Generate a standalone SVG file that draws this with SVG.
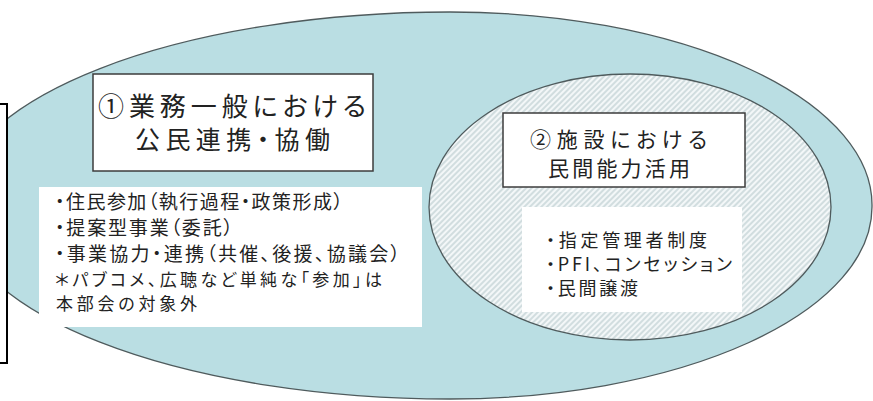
<svg xmlns="http://www.w3.org/2000/svg" width="873" height="401" viewBox="0 0 873 401">
<defs>
<pattern id="hatch" patternUnits="userSpaceOnUse" width="4" height="4" patternTransform="rotate(45)">
<rect width="4" height="4" fill="#f3f7f8"/>
<line x1="1" y1="0" x2="1" y2="4" stroke="#c3d2d5" stroke-width="1.4"/>
</pattern>
<style>
.t{font-family:"Noto Sans CJK JP","Noto Sans CJK SC",sans-serif;fill:#222;font-feature-settings:"palt";}
.box{fill:#fff;stroke:#3c3c3c;stroke-width:1.5;}
.list{fill:#fff;}
</style>
</defs>
<rect width="873" height="401" fill="#fff"/>
<g id="outer">
<path d="M450,12 A422,193 0 0 1 872,207 A422,192 0 0 1 450,399 A495,194 0 0 1 -45,205 A495,193 0 0 1 450,12 Z" fill="#badee3" stroke="#4f5b5d" stroke-width="1.3"/>
</g>
<g id="inner">
<ellipse cx="630" cy="207" rx="201" ry="133" fill="url(#hatch)" stroke="#4f5b5d" stroke-width="1.3"/>
</g>
<g id="leftbox">
<rect x="-10" y="104" width="17" height="259" fill="#fff" stroke="#000" stroke-width="2"/>
</g>
<g id="node1">
<rect class="box" x="93" y="74" width="280" height="97"/>
<text class="t" x="98" y="116" font-size="26" textLength="268" lengthAdjust="spacing">①業務一般における</text>
<text class="t" x="135" y="149" font-size="25" textLength="195" lengthAdjust="spacing">公民連携・協働</text>
</g>
<g id="list1">
<rect class="list" x="39" y="187" width="383" height="140"/>
<text class="t" x="55" y="209" font-size="19" textLength="288" lengthAdjust="spacing">・住民参加（執行過程・政策形成）</text>
<text class="t" x="55" y="235" font-size="19" textLength="178" lengthAdjust="spacing">・提案型事業（委託）</text>
<text class="t" x="55" y="261" font-size="19" textLength="345" lengthAdjust="spacing">・事業協力・連携（共催、後援、協議会）</text>
<text class="t" x="55" y="286" font-size="17" textLength="327" lengthAdjust="spacing">＊パブコメ、広聴など単純な「参加」は</text>
<text class="t" x="56" y="310" font-size="17" textLength="141" lengthAdjust="spacing">本部会の対象外</text>
</g>
<g id="node2">
<rect class="box" x="503" y="113" width="242" height="74"/>
<text class="t" x="530" y="147" font-size="21" textLength="177" lengthAdjust="spacing">②施設における</text>
<text class="t" x="548" y="176" font-size="21" textLength="142" lengthAdjust="spacing">民間能力活用</text>
</g>
<g id="list2">
<rect class="list" x="522" y="207" width="220" height="105"/>
<text class="t" x="546" y="247" font-size="18" textLength="161" lengthAdjust="spacing">・指定管理者制度</text>
<text class="t" x="546" y="271" font-size="18" textLength="186" lengthAdjust="spacing">・PFI、コンセッション</text>
<text class="t" x="546" y="295" font-size="18" textLength="92" lengthAdjust="spacing">・民間譲渡</text>
</g>
<g id="connectors"/>
</svg>
